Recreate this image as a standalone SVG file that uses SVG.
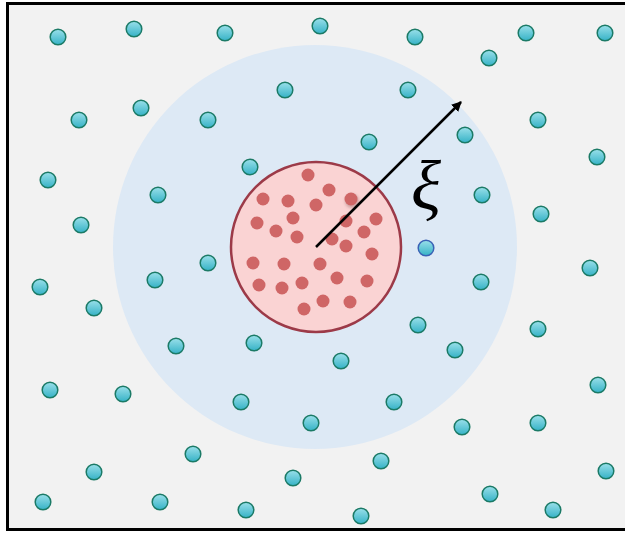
<svg xmlns="http://www.w3.org/2000/svg" width="625" height="533" viewBox="0 0 625 533">
<style>
.c{fill:url(#cg);stroke:#1b7a66;stroke-width:1.5}
.cb{fill:url(#cg);stroke:#3a62b5;stroke-width:1.5}
.r{fill:#cf6666}
</style>
<defs>
<linearGradient id="cg" x1="0" y1="0" x2="0" y2="1">
<stop offset="0" stop-color="#9ae0ea"/>
<stop offset="1" stop-color="#35b2c6"/>
</linearGradient>
<filter id="bl" x="-1" y="-1" width="3" height="3"><feGaussianBlur stdDeviation="1.5"/></filter>
<marker id="ah" viewBox="0 0 10 10" refX="9" refY="5" markerWidth="4" markerHeight="4" orient="auto"><path d="M0,0 L10,5 L0,10 z" fill="#000"/></marker>
</defs>
<rect x="7.5" y="3.5" width="640" height="526" fill="#f2f2f2" stroke="#000" stroke-width="3"/>
<g id="outer-region"><circle cx="315" cy="247" r="202" fill="#dde9f5"/></g>
<g id="cyan-particles">
<circle class="c" cx="58" cy="37" r="7.8"/><circle class="c" cx="134" cy="29" r="7.8"/><circle class="c" cx="225" cy="33" r="7.8"/><circle class="c" cx="320" cy="26" r="7.8"/><circle class="c" cx="415" cy="37" r="7.8"/><circle class="c" cx="526" cy="33" r="7.8"/><circle class="c" cx="605" cy="33" r="7.8"/><circle class="c" cx="489" cy="58" r="7.8"/>
<circle class="c" cx="79" cy="120" r="7.8"/><circle class="c" cx="141" cy="108" r="7.8"/><circle class="c" cx="208" cy="120" r="7.8"/><circle class="c" cx="285" cy="90" r="7.8"/><circle class="c" cx="408" cy="90" r="7.8"/><circle class="c" cx="538" cy="120" r="7.8"/><circle class="c" cx="369" cy="142" r="7.8"/><circle class="c" cx="465" cy="135" r="7.8"/>
<circle class="c" cx="48" cy="180" r="7.8"/><circle class="c" cx="250" cy="167" r="7.8"/><circle class="c" cx="597" cy="157" r="7.8"/><circle class="c" cx="158" cy="195" r="7.8"/><circle class="c" cx="482" cy="195" r="7.8"/><circle class="c" cx="81" cy="225" r="7.8"/><circle class="c" cx="541" cy="214" r="7.8"/><circle class="c" cx="208" cy="263" r="7.8"/>
<circle class="cb" cx="426" cy="248" r="7.8"/>
<circle class="c" cx="40" cy="287" r="7.8"/><circle class="c" cx="155" cy="280" r="7.8"/><circle class="c" cx="481" cy="282" r="7.8"/><circle class="c" cx="590" cy="268" r="7.8"/><circle class="c" cx="94" cy="308" r="7.8"/><circle class="c" cx="418" cy="325" r="7.8"/><circle class="c" cx="538" cy="329" r="7.8"/>
<circle class="c" cx="176" cy="346" r="7.8"/><circle class="c" cx="254" cy="343" r="7.8"/><circle class="c" cx="455" cy="350" r="7.8"/><circle class="c" cx="341" cy="361" r="7.8"/><circle class="c" cx="50" cy="390" r="7.8"/><circle class="c" cx="123" cy="394" r="7.8"/><circle class="c" cx="241" cy="402" r="7.8"/><circle class="c" cx="394" cy="402" r="7.8"/>
<circle class="c" cx="598" cy="385" r="7.8"/><circle class="c" cx="311" cy="423" r="7.8"/><circle class="c" cx="462" cy="427" r="7.8"/><circle class="c" cx="538" cy="423" r="7.8"/><circle class="c" cx="193" cy="454" r="7.8"/><circle class="c" cx="381" cy="461" r="7.8"/><circle class="c" cx="94" cy="472" r="7.8"/><circle class="c" cx="293" cy="478" r="7.8"/>
<circle class="c" cx="606" cy="471" r="7.8"/><circle class="c" cx="43" cy="502" r="7.8"/><circle class="c" cx="160" cy="502" r="7.8"/><circle class="c" cx="246" cy="510" r="7.8"/><circle class="c" cx="361" cy="516" r="7.8"/><circle class="c" cx="490" cy="494" r="7.8"/><circle class="c" cx="553" cy="510" r="7.8"/>
</g>
<g id="inner-region">
<circle cx="316" cy="247" r="85" fill="#fad3d3" stroke="#9c3a48" stroke-width="2.5"/>
<circle class="r" cx="308" cy="175" r="6.5"/><circle class="r" cx="263" cy="199" r="6.5"/><circle class="r" cx="288" cy="201" r="6.5"/><circle class="r" cx="329" cy="190" r="6.5"/><circle class="r" cx="316" cy="205" r="6.5"/>
<circle cx="352" cy="201" r="7" fill="#b08080" filter="url(#bl)" opacity="0.6"/><circle class="r" cx="351" cy="199" r="6.5"/>
<circle class="r" cx="257" cy="223" r="6.5"/><circle class="r" cx="293" cy="218" r="6.5"/><circle class="r" cx="276" cy="231" r="6.5"/><circle class="r" cx="297" cy="237" r="6.5"/><circle class="r" cx="346" cy="221" r="6.5"/><circle class="r" cx="376" cy="219" r="6.5"/><circle class="r" cx="364" cy="232" r="6.5"/><circle class="r" cx="332" cy="239" r="6.5"/><circle class="r" cx="346" cy="246" r="6.5"/><circle class="r" cx="372" cy="254" r="6.5"/>
<circle class="r" cx="253" cy="263" r="6.5"/><circle class="r" cx="284" cy="264" r="6.5"/><circle class="r" cx="320" cy="264" r="6.5"/><circle class="r" cx="259" cy="285" r="6.5"/><circle class="r" cx="282" cy="288" r="6.5"/><circle class="r" cx="302" cy="283" r="6.5"/><circle class="r" cx="337" cy="278" r="6.5"/><circle class="r" cx="367" cy="281" r="6.5"/><circle class="r" cx="304" cy="309" r="6.5"/><circle class="r" cx="323" cy="301" r="6.5"/><circle class="r" cx="350" cy="302" r="6.5"/>
</g>
<g id="connectors"><line x1="316" y1="247" x2="461" y2="102" stroke="#000" stroke-width="2.5" marker-end="url(#ah)"/></g>
<g id="label"><text x="411" y="209" font-family="Liberation Serif, serif" font-style="italic" font-size="70">ξ</text></g>
</svg>
